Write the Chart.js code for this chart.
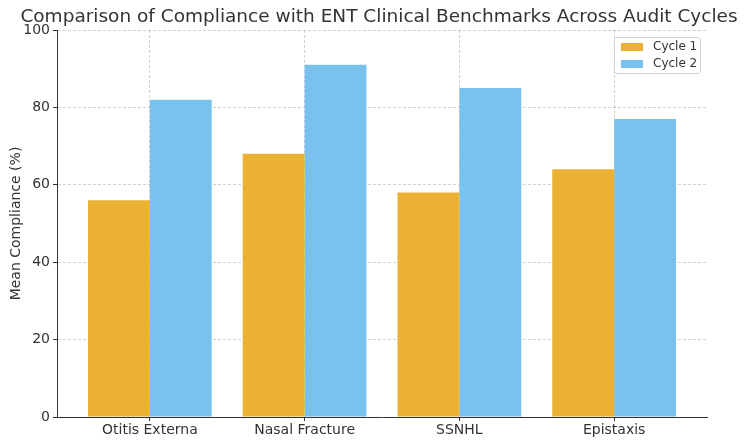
<!DOCTYPE html>
<html>
<head>
<meta charset="utf-8">
<script src="https://cdn.jsdelivr.net/npm/chart.js@4.4.1/dist/chart.umd.min.js"></script>
<style>
  html, body { margin: 0; padding: 0; background: #fff; }
  #wrap { width: 750px; height: 443px; }
</style>
</head>
<body>
<div id="wrap"><canvas id="c" width="750" height="443"></canvas></div>
<script>
const categories = ["Otitis Externa", "Nasal Fracture", "SSNHL", "Epistaxis"];
const cycle1 = [56, 68, 58, 64];
const cycle2 = [82, 91, 85, 77];
const seriesNames = ["Cycle 1", "Cycle 2"];
const yTicks = [0, 20, 40, 60, 80, 100];

const FONT = "'DejaVu Sans', 'Liberation Sans', sans-serif";
const TEXT = '#333333';
const ORANGE = '#EBB134';
const BLUE = '#78C2ED';

const toPoints = arr => arr.map((v, i) => ({ x: i, y: v }));

const legendBox = {
  id: 'legendBox',
  afterDraw(chart) {
    const ctx = chart.ctx;
    const area = chart.chartArea;
    const x0 = area.right - 93, y0 = area.top + 7, w = 86, h = 36;
    ctx.save();
    ctx.beginPath();
    if (ctx.roundRect) ctx.roundRect(x0 + 0.5, y0 + 0.5, w, h, 3); else ctx.rect(x0 + 0.5, y0 + 0.5, w, h);
    ctx.fillStyle = 'rgba(255,255,255,0.85)';
    ctx.fill();
    ctx.strokeStyle = '#d0d0d0';
    ctx.lineWidth = 1;
    ctx.stroke();
    const colors = [ORANGE, BLUE];
    ctx.font = '12px ' + FONT;
    ctx.textBaseline = 'middle';
    chart.data.datasets.forEach((ds, i) => {
      const cy = y0 + 10 + i * 17;
      ctx.fillStyle = colors[i];
      ctx.fillRect(x0 + 7, cy - 4, 22, 8);
      ctx.fillStyle = TEXT;
      ctx.fillText(ds.label, x0 + 39, cy);
    });
    ctx.restore();
  }
};

const gridOpts = {
  color: 'rgba(0,0,0,0.18)',
  lineWidth: 1,
  offset: false,
  drawTicks: true,
  tickLength: 4,
  tickColor: TEXT,
  tickBorderDash: [10, 0]
};

new Chart(document.getElementById('c'), {
  type: 'bar',
  data: {
    datasets: [
      { label: seriesNames[0], data: toPoints(cycle1), backgroundColor: ORANGE, borderWidth: 0 },
      { label: seriesNames[1], data: toPoints(cycle2), backgroundColor: BLUE, borderWidth: 0 }
    ]
  },
  options: {
    responsive: false,
    animation: false,
    devicePixelRatio: 1,
    layout: { padding: { left: 8, right: 0, top: 0, bottom: 0 } },
    datasets: { bar: { categoryPercentage: 0.8, barPercentage: 1.0 } },
    plugins: {
      legend: { display: false },
      tooltip: { enabled: false },
      title: {
        display: true,
        text: 'Comparison of Compliance with ENT Clinical Benchmarks Across Audit Cycles',
        color: TEXT,
        font: { family: FONT, size: 18.5, weight: 'normal', lineHeight: 1.2 },
        padding: { top: 6, bottom: 1.8 }
      }
    },
    scales: {
      x: {
        type: 'linear',
        min: -0.6,
        max: 3.6,
        offset: false,
        afterBuildTicks(scale) { scale.ticks = categories.map((c, i) => ({ value: i })); },
        afterFit(scale) { scale.height = 26; },
        ticks: {
          color: TEXT,
          font: { family: FONT, size: 14 },
          padding: 1,
          autoSkip: false,
          maxRotation: 0,
          callback: (v) => categories[v] !== undefined ? categories[v] : ''
        },
        grid: gridOpts,
        border: { display: true, color: TEXT, width: 1, dash: [3, 2] }
      },
      y: {
        min: 0,
        max: 100,
        afterBuildTicks(scale) { scale.ticks = yTicks.map(v => ({ value: v })); },
        afterFit(scale) { scale.width = 49; },
        ticks: {
          color: TEXT,
          font: { family: FONT, size: 14 },
          padding: 3
        },
        grid: gridOpts,
        border: { display: true, color: TEXT, width: 1, dash: [3, 2] },
        title: {
          display: true,
          text: 'Mean Compliance (%)',
          color: TEXT,
          font: { family: FONT, size: 14 },
          padding: { top: 0, bottom: 0 }
        }
      },
      yRight: {
        position: 'right',
        display: true,
        min: 0,
        max: 100,
        afterFit(scale) { scale.width = 43; },
        ticks: { display: false },
        grid: { display: false, drawTicks: false },
        border: { display: false }
      }
    }
  },
  plugins: [legendBox]
});
</script>
</body>
</html>
